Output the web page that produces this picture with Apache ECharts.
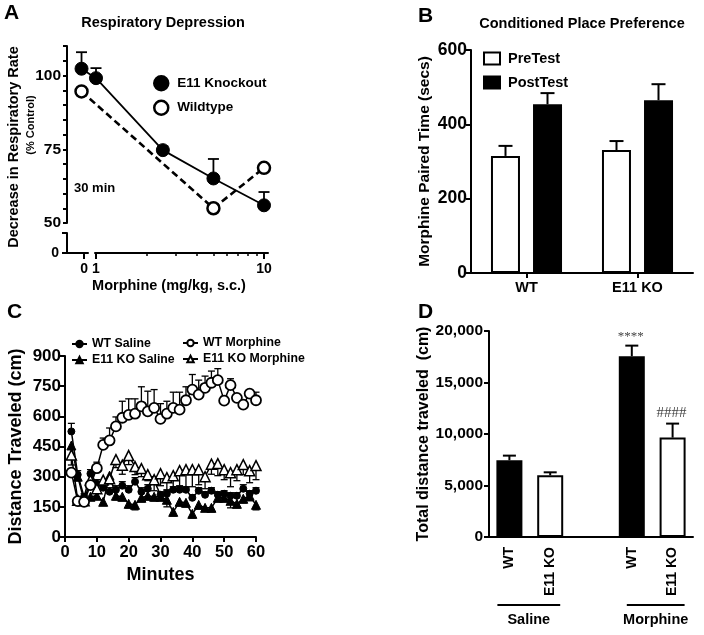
<!DOCTYPE html>
<html><head><meta charset="utf-8">
<script src="https://cdn.jsdelivr.net/npm/echarts@6/dist/echarts.min.js"></script>
<style>html,body{margin:0;padding:0;background:#fff}#c{width:704px;height:635px}</style>
</head><body><div id="c"></div>
<script>
// ---------------- Panel A: Respiratory Depression ----------------
const respDoseLabels = ['0', '1', '2.5', '5', '10'];
const respDosePos = [0.82, 1, 2.5, 5, 10];          // dose "0" is drawn left of the axis break
const koResp = [102.3, 99.1, 74.7, 65.1, 56.0];
const koRespErr = [5.6, 3.4, 1.3, 6.6, 4.5];
const wtResp = [94.6, null, null, 55.0, 68.7];
const respZeroTick = [0.85];
const respMajorTicks = [1, 10];
const respMinorTicks = [2, 3, 4, 5, 6, 7, 8, 9];

// ---------------- Panel B: Conditioned Place Preference ----------------
const cppGroups = ['WT', 'E11 KO'];
const preTest = [315, 331];
const preTestSem = [27, 24];
const postTest = [454, 465];
const postTestSem = [30, 43];

// ---------------- Panel C: Distance traveled over time ----------------
const minutes = [2, 4, 6, 8, 10, 12, 14, 16, 18, 20, 22, 24, 26, 28, 30, 32, 34, 36, 38, 40, 42, 44, 46, 48, 50, 52, 54, 56, 58, 60];
const wtSaline = [525, 310, 200, 315, 265, 245, 225, 235, 255, 235, 275, 225, 240, 280, 210, 215, 235, 235, 235, 195, 230, 210, 230, 210, 215, 205, 205, 240, 215, 230];
const wtSalineSem = [40, 20, 15, 20, 20, 20, 20, 20, 20, 20, 20, 20, 20, 20, 15, 15, 15, 15, 15, 15, 15, 15, 15, 15, 15, 15, 15, 20, 15, 15];
const wtMorphine = [320, 178, 175, 258, 342, 458, 480, 550, 593, 607, 613, 650, 625, 642, 587, 613, 642, 633, 680, 733, 708, 742, 767, 780, 678, 755, 692, 658, 713, 680];
const wtMorphineSem = [20, 10, 10, 15, 30, 34, 62, 47, 82, 80, 74, 97, 100, 91, 76, 62, 78, 87, 67, 75, 72, 58, 58, 57, 22, 32, 15, 15, 12, 40];
const koSaline = [455, 300, 180, 200, 205, 175, 305, 205, 200, 165, 160, 195, 205, 200, 200, 185, 125, 175, 170, 115, 160, 145, 145, 195, 195, 180, 165, 190, 205, 160];
const koSalineSem = [50, 20, 15, 15, 15, 15, 20, 20, 20, 20, 25, 20, 20, 20, 20, 35, 20, 20, 20, 20, 20, 15, 20, 20, 20, 35, 20, 20, 25, 25];
const koMorphine = [408, 183, 180, 283, 240, 283, 290, 385, 357, 405, 350, 340, 310, 285, 315, 295, 305, 330, 335, 335, 335, 300, 362, 365, 335, 320, 335, 360, 330, 355];
const koMorphineSem = [50, 15, 15, 20, 20, 20, 25, 40, 45, 45, 40, 40, 30, 55, 60, 60, 65, 75, 90, 85, 75, 60, 50, 60, 50, 70, 55, 50, 60, 70];

// ---------------- Panel D: Total distance traveled ----------------
const dCats = ['WT', 'E11 KO', '', 'WT', 'E11 KO'];
const dGroups = ['Saline', 'Morphine'];
const dWT = [7450, null, null, 17550, null];
const dWTSem = [450, null, null, 1030, null];
const dKO = [null, 5990, null, null, 9650];
const dKOSem = [null, 290, null, null, 1360];
const dMarks = ['', '', '', '****', '####'];

// ---------------- helpers ----------------
const FONT = '"Liberation Sans", Arial, Helvetica, sans-serif';
const SERIF = '"Liberation Serif", "Times New Roman", serif';
function merge(a, b) {
  const o = Array.isArray(a) ? a.slice() : Object.assign({}, a);
  for (const k in b) {
    if (b[k] && typeof b[k] === 'object' && !Array.isArray(b[k]) && a[k] && typeof a[k] === 'object' && !Array.isArray(a[k])) o[k] = merge(a[k], b[k]);
    else o[k] = b[k];
  }
  return o;
}
function axis(o) {
  return merge({
    axisLine: { show: true, onZero: false, lineStyle: { color: '#000', width: 2 } },
    axisTick: { show: true, length: 5, inside: false, lineStyle: { color: '#000', width: 2 } },
    axisLabel: { color: '#000', fontFamily: FONT, fontWeight: 'bold', fontSize: 15 },
    splitLine: { show: false },
    nameTextStyle: { color: '#000', fontFamily: FONT, fontWeight: 'bold' }
  }, o);
}
const lg = v => Math.log10(v);
const nn = v => (v === null ? '-' : v);

function errRender(offset, capW, lw, marks, markFonts) {
  return function (params, api) {
    const x = api.value(0), m = api.value(1), t = api.value(2);
    const a = api.coord([x, m]), b = api.coord([x, t]);
    const cx = a[0] + offset;
    const ch = [
      { type: 'line', shape: { x1: cx, y1: a[1], x2: cx, y2: b[1] }, style: { stroke: '#000', lineWidth: lw } },
      { type: 'line', shape: { x1: cx - capW / 2, y1: b[1], x2: cx + capW / 2, y2: b[1] }, style: { stroke: '#000', lineWidth: lw } }
    ];
    if (marks && marks[params.dataIndex]) {
      ch.push({ type: 'text', x: cx - 1, y: b[1] - 3, style: { text: marks[params.dataIndex], fill: '#444', font: markFonts[params.dataIndex], align: 'center', verticalAlign: 'bottom' } });
    }
    return { type: 'group', children: ch };
  };
}

// Panel A data points (log10 of dose on a value axis)
const koRespPts = koResp.map((v, i) => [lg(respDosePos[i]), v]);
const wtRespPts = wtResp.map((v, i) => [lg(respDosePos[i]), v]).filter(p => p[1] !== null);
const koRespErrPts = koResp.map((v, i) => [lg(respDosePos[i]), v, v + koRespErr[i]]);

// Panel B error data
const preErr = preTest.map((v, i) => [i, v, v + preTestSem[i]]);
const postErr = postTest.map((v, i) => [i, v, v + postTestSem[i]]);

// Panel C
const cPts = arr => arr.map((v, i) => [minutes[i], v]);
const cErr = (arr, sem, dir) => arr.map((v, i) => [minutes[i], v, v + dir * sem[i]]);

// Panel D error data
const dErr = [], dErrMarks = [], dErrFonts = [];
dCats.forEach((c, i) => {
  if (dWT[i] !== null) { dErr.push([i, dWT[i], dWT[i] + dWTSem[i]]); dErrMarks.push(dMarks[i]); dErrFonts.push('13px ' + SERIF); }
  if (dKO[i] !== null) { dErr.push([i, dKO[i], dKO[i] + dKOSem[i]]); dErrMarks.push(dMarks[i]); dErrFonts.push('15px ' + SERIF); }
});

const A_MIN = -0.1726, A_MAX = 1.0238;

const option = {
  animation: false,
  backgroundColor: '#fff',
  textStyle: { fontFamily: FONT },
  grid: [
    { left: 67, top: 46, width: 201, height: 177, outerBoundsMode: 'none' },   // A main
    { left: 67, top: 233, width: 21, height: 20, outerBoundsMode: 'none' },    // A bottom-left (axis break)
    { left: 95, top: 233, width: 173, height: 20, outerBoundsMode: 'none' },   // A bottom-right
    { left: 471, top: 50, width: 222, height: 223, outerBoundsMode: 'none' },  // B
    { left: 65, top: 356, width: 191, height: 181, outerBoundsMode: 'none' },  // C
    { left: 489, top: 331, width: 204, height: 206, outerBoundsMode: 'none' }  // D
  ],
  xAxis: [
    { type: 'value', gridIndex: 0, min: A_MIN, max: A_MAX, show: false },
    axis({ type: 'value', gridIndex: 1, position: 'bottom', min: A_MIN, max: -0.0476,
      axisTick: { customValues: respZeroTick.map(lg), length: 6 },
      axisLabel: { customValues: respZeroTick.map(lg), formatter: () => respDoseLabels[0], fontSize: 14, margin: 9 } }),
    axis({ type: 'value', gridIndex: 2, position: 'bottom', min: -0.006, max: A_MAX,
      axisTick: { customValues: respMajorTicks.map(lg), length: 6 },
      axisLabel: { customValues: respMajorTicks.map(lg), formatter: v => String(Math.round(Math.pow(10, v))), fontSize: 14, margin: 9 } }),
    axis({ type: 'value', gridIndex: 2, position: 'bottom', min: -0.006, max: A_MAX,
      axisLine: { show: false },
      axisTick: { customValues: respMinorTicks.map(lg), length: 3, lineStyle: { width: 1.5 } },
      axisLabel: { show: false } }),
    axis({ type: 'category', gridIndex: 3, data: cppGroups, axisTick: { alignWithLabel: true },
      axisLabel: { fontSize: 14.5, margin: 7 } }),
    axis({ type: 'value', gridIndex: 4, min: 0, max: 60, interval: 10,
      axisLabel: { fontSize: 16.5, margin: 7 },
      name: 'Minutes', nameLocation: 'middle', nameGap: 29, nameTextStyle: { fontSize: 18 } }),
    axis({ type: 'category', gridIndex: 5, data: dCats, axisTick: { show: false },
      axisLabel: { rotate: 90, interval: 0, fontSize: 14, margin: 10 } })
  ],
  yAxis: [
    axis({ type: 'value', gridIndex: 0, min: 50, max: 110, interval: 5,
      axisTick: { length: 4 },
      axisLabel: { fontSize: 15.5, margin: 6, formatter: v => (v % 25 === 0 ? String(v) : '') } }),
    axis({ type: 'value', gridIndex: 1, min: 0, max: 5,
      axisTick: { customValues: [0, 5], length: 5 },
      axisLabel: { customValues: [0], fontSize: 14, margin: 8 } }),
    { type: 'value', gridIndex: 2, min: 0, max: 5, show: false },
    axis({ type: 'value', gridIndex: 3, min: 0, max: 600, interval: 200,
      axisLabel: { fontSize: 17.5, margin: 4 },
      name: 'Morphine Paired Time (secs)', nameLocation: 'middle', nameGap: 38, nameTextStyle: { fontSize: 15.5 } }),
    axis({ type: 'value', gridIndex: 4, min: 0, max: 900, interval: 150,
      axisLabel: { fontSize: 17, margin: 4 },
      name: 'Distance Traveled (cm)', nameLocation: 'middle', nameGap: 40, nameTextStyle: { fontSize: 18 } }),
    axis({ type: 'value', gridIndex: 5, min: 0, max: 20000, interval: 5000,
      axisLabel: { fontSize: 15.5, margin: 6, formatter: v => v.toLocaleString('en-US') },
      name: 'Total distance traveled  (cm)', nameLocation: 'middle', nameGap: 54, nameTextStyle: { fontSize: 16 } })
  ],
  legend: [
    { data: ['E11 Knockout', 'Wildtype'], orient: 'vertical', left: 148, top: 70, icon: 'circle',
      itemWidth: 14, itemHeight: 14, itemGap: 8, selectedMode: false,
      itemStyle: { borderColor: '#000', borderWidth: 2.5 },
      textStyle: { color: '#000', fontFamily: FONT, fontWeight: 'bold', fontSize: 13.5, padding: [0, 0, 0, 4] } },
    { data: ['PreTest', 'PostTest'], orient: 'vertical', left: 478, top: 46, icon: 'rect',
      itemWidth: 16, itemHeight: 12, itemGap: 9, selectedMode: false,
      itemStyle: { borderColor: '#000', borderWidth: 2 },
      textStyle: { color: '#000', fontFamily: FONT, fontWeight: 'bold', fontSize: 14.5, lineHeight: 14, padding: [0, 0, 0, 3] } },
    { data: ['WT Saline', 'E11 KO Saline'], orient: 'vertical', left: 66, top: 332,
      itemWidth: 15, itemHeight: 8, itemGap: 2, selectedMode: false,
      textStyle: { color: '#000', fontFamily: FONT, fontWeight: 'bold', fontSize: 12.3, lineHeight: 14 } },
    { data: ['WT Morphine', 'E11 KO Morphine'], orient: 'vertical', left: 177, top: 331,
      itemWidth: 15, itemHeight: 8, itemGap: 2, selectedMode: false,
      textStyle: { color: '#000', fontFamily: FONT, fontWeight: 'bold', fontSize: 12.3, lineHeight: 14 } }
  ],
  series: [
    // ----- A -----
    { type: 'custom', xAxisIndex: 0, yAxisIndex: 0, data: koRespErrPts, encode: { x: 0, y: [1, 2] },
      renderItem: errRender(0, 11, 1.8), z: 1, silent: true },
    { name: 'Wildtype', type: 'line', xAxisIndex: 0, yAxisIndex: 0, data: wtRespPts, symbol: 'circle', symbolSize: 12,
      lineStyle: { color: '#000', width: 2.6, type: [7, 4] }, itemStyle: { color: '#fff', borderColor: '#000', borderWidth: 2.5 }, z: 2 },
    { name: 'E11 Knockout', type: 'line', xAxisIndex: 0, yAxisIndex: 0, data: koRespPts, symbol: 'circle', symbolSize: 13,
      lineStyle: { color: '#000', width: 1.8 }, itemStyle: { color: '#000', borderColor: '#000', borderWidth: 1 }, z: 3 },
    // ----- B -----
    { name: 'PreTest', type: 'bar', xAxisIndex: 4, yAxisIndex: 3, data: preTest, barWidth: 29, barGap: '45%',
      itemStyle: { color: '#fff', borderColor: '#000', borderWidth: 2 } },
    { name: 'PostTest', type: 'bar', xAxisIndex: 4, yAxisIndex: 3, data: postTest, barWidth: 29, barGap: '45%',
      itemStyle: { color: '#000', borderColor: '#000', borderWidth: 2 } },
    { type: 'custom', xAxisIndex: 4, yAxisIndex: 3, data: preErr, encode: { x: 0, y: [1, 2] },
      renderItem: errRender(-21, 14, 2), z: 1, silent: true },
    { type: 'custom', xAxisIndex: 4, yAxisIndex: 3, data: postErr, encode: { x: 0, y: [1, 2] },
      renderItem: errRender(21, 14, 2), z: 1, silent: true },
    // ----- C -----
    { type: 'custom', xAxisIndex: 5, yAxisIndex: 4, data: cErr(wtSaline, wtSalineSem, 1), encode: { x: 0, y: [1, 2] }, renderItem: errRender(0, 7, 1.3), z: 1, silent: true },
    { type: 'custom', xAxisIndex: 5, yAxisIndex: 4, data: cErr(koSaline, koSalineSem, -1), encode: { x: 0, y: [1, 2] }, renderItem: errRender(0, 7, 1.3), z: 1, silent: true },
    { type: 'custom', xAxisIndex: 5, yAxisIndex: 4, data: cErr(wtMorphine, wtMorphineSem, 1), encode: { x: 0, y: [1, 2] }, renderItem: errRender(0, 7, 1.3), z: 1, silent: true },
    { type: 'custom', xAxisIndex: 5, yAxisIndex: 4, data: cErr(koMorphine, koMorphineSem, -1), encode: { x: 0, y: [1, 2] }, renderItem: errRender(0, 7, 1.3), z: 1, silent: true },
    { name: 'WT Saline', type: 'line', xAxisIndex: 5, yAxisIndex: 4, data: cPts(wtSaline), symbol: 'circle', symbolSize: 7,
      lineStyle: { color: '#000', width: 1.5 }, itemStyle: { color: '#000', borderColor: '#000', borderWidth: 1 }, z: 2 },
    { name: 'E11 KO Saline', type: 'line', xAxisIndex: 5, yAxisIndex: 4, data: cPts(koSaline), symbol: 'triangle', symbolSize: 9,
      lineStyle: { color: '#000', width: 1.5 }, itemStyle: { color: '#000', borderColor: '#000', borderWidth: 1 }, z: 2 },
    { name: 'E11 KO Morphine', type: 'line', xAxisIndex: 5, yAxisIndex: 4, data: cPts(koMorphine), symbol: 'triangle', symbolSize: 10,
      lineStyle: { color: '#000', width: 1.5 }, itemStyle: { color: '#fff', borderColor: '#000', borderWidth: 1.5 }, z: 3 },
    { name: 'WT Morphine', type: 'line', xAxisIndex: 5, yAxisIndex: 4, data: cPts(wtMorphine), symbol: 'circle', symbolSize: 10,
      lineStyle: { color: '#000', width: 1.5 }, itemStyle: { color: '#fff', borderColor: '#000', borderWidth: 1.8 }, z: 3 },
    // ----- D -----
    { name: 'WT', type: 'bar', xAxisIndex: 6, yAxisIndex: 5, data: dWT.map(nn), barWidth: 26, barGap: '-100%',
      itemStyle: { color: '#000', borderColor: '#000', borderWidth: 2 } },
    { name: 'E11 KO', type: 'bar', xAxisIndex: 6, yAxisIndex: 5, data: dKO.map(nn), barWidth: 26, barGap: '-100%',
      itemStyle: { color: '#fff', borderColor: '#000', borderWidth: 2 } },
    { type: 'custom', xAxisIndex: 6, yAxisIndex: 5, data: dErr, encode: { x: 0, y: [1, 2] },
      renderItem: errRender(0, 13, 2, dErrMarks, dErrFonts), z: 1, silent: true }
  ]
};

const chart = echarts.init(document.getElementById('c'), null, { renderer: 'canvas', width: 704, height: 635 });
chart.setOption(option);

// ----- text annotations & D group brackets -----
const T = (text, x, y, size, extra) => Object.assign({ type: 'text', x: x, y: y, silent: true,
  style: Object.assign({ text: text, fill: '#000', font: 'bold ' + size + 'px ' + FONT, align: 'left', verticalAlign: 'top' }, (extra || {})) });
const px = i => chart.convertToPixel({ xAxisIndex: 6 }, i);
const yBr = 605;
const g1a = px(0) - 12, g1b = px(1) + 10, g2a = px(3) - 5, g2b = px(4) + 12;
chart.setOption({
  graphic: { elements: [
    T('A', 4, 3, 21),
    T('Respiratory Depression', 163, 23, 14.5, { align: 'center', verticalAlign: 'middle' }),
    T('B', 418, 6, 21),
    T('Conditioned Place Preference', 582, 24, 14.5, { align: 'center', verticalAlign: 'middle' }),
    T('C', 7, 302, 21),
    T('D', 418, 302, 21),
    T('30 min', 74, 188, 13, { verticalAlign: 'middle' }),
    Object.assign(T('Decrease in Respiratory Rate', 14, 147, 14.5, { align: 'center', verticalAlign: 'middle' }), { rotation: Math.PI / 2 }),
    Object.assign(T('(% Control)', 31, 125, 11, { align: 'center', verticalAlign: 'middle' }), { rotation: Math.PI / 2 }),
    T('Morphine (mg/kg, s.c.)', 169, 286, 14.5, { align: 'center', verticalAlign: 'middle' }),
    { type: 'line', silent: true, shape: { x1: g1a, y1: yBr, x2: g1b, y2: yBr }, style: { stroke: '#000', lineWidth: 2 } },
    { type: 'line', silent: true, shape: { x1: g2a, y1: yBr, x2: g2b, y2: yBr }, style: { stroke: '#000', lineWidth: 2 } },
    T(dGroups[0], (g1a + g1b) / 2, 620, 14.5, { align: 'center', verticalAlign: 'middle' }),
    T(dGroups[1], (g2a + g2b) / 2, 620, 14.5, { align: 'center', verticalAlign: 'middle' })
  ] }
});
</script>
</body></html>
